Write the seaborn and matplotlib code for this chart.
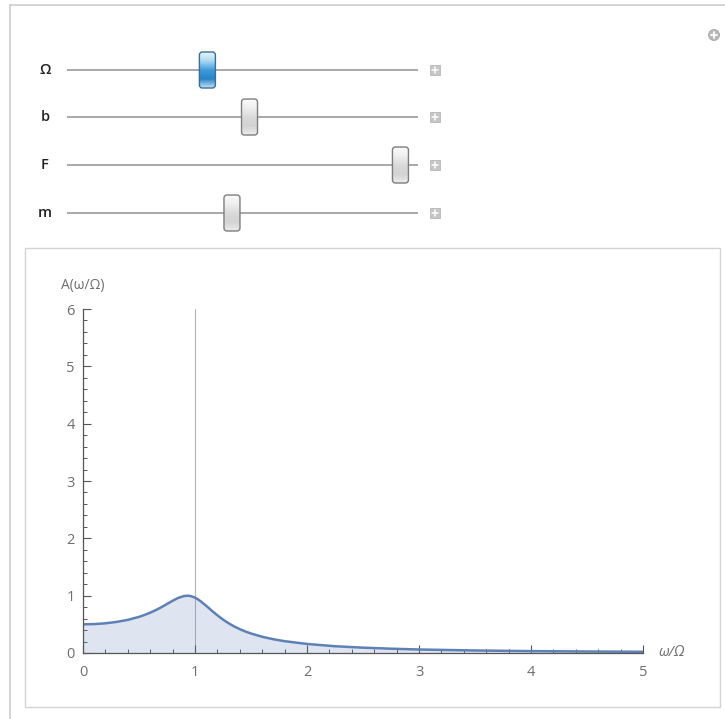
import matplotlib.pyplot as plt
import matplotlib.patches as mpatches
from matplotlib.colors import LinearSegmentedColormap
import numpy as np
import seaborn as sns

# slider controls: label, handle position along the track (0..1), highlighted?
slider_labels = ["Ω", "b", "F", "m"]
slider_positions = [0.40, 0.52, 0.95, 0.47]
slider_active = [True, False, False, False]

# resonance curve
omega_ratio = [0.0, 0.1, 0.2, 0.3, 0.4, 0.5, 0.55, 0.6, 0.65, 0.7, 0.75, 0.8, 0.85,
               0.9, 0.93, 0.95, 0.97, 1.0, 1.02, 1.05, 1.1, 1.15, 1.2, 1.25, 1.3,
               1.35, 1.4, 1.45, 1.5, 1.6, 1.7, 1.8, 2.0, 2.25, 2.5, 2.75, 3.0, 3.5,
               4.0, 4.5, 5.0]
amplitude = [0.500, 0.504, 0.518, 0.542, 0.578, 0.630, 0.664, 0.703, 0.748, 0.799,
             0.855, 0.911, 0.961, 0.993, 0.999, 0.997, 0.988, 0.965, 0.944, 0.903,
             0.823, 0.738, 0.657, 0.583, 0.519, 0.463, 0.416, 0.375, 0.340, 0.283,
             0.240, 0.206, 0.158, 0.118, 0.093, 0.075, 0.061, 0.044, 0.033, 0.026,
             0.021]
marker_line = 1.0

sns.set_style("ticks")
plt.rcParams['font.family'] = ['Open Sans', 'DejaVu Sans']

W, H = 725, 719
fig = plt.figure(figsize=(W / 100, H / 100), dpi=100)

# --- plot area ---
curve_color = "#5E81B5"
axis_color = "#555555"
ax = fig.add_axes([83 / W, 1 - 653 / H, (643 - 83) / W, (653 - 309) / H])
ax.set_zorder(2)
ax.patch.set_alpha(0)
sns.lineplot(x=omega_ratio, y=amplitude, ax=ax, color=curve_color, linewidth=1.8)
ax.fill_between(omega_ratio, amplitude, 0, color=curve_color, alpha=0.2, lw=0)
ax.axvline(marker_line, color="#b5b5b5", lw=0.8, zorder=0)
ax.set_xlim(0, 5)
ax.set_ylim(0, 6)
ax.set_xticks(range(0, 6))
ax.set_yticks(range(0, 7))
ax.set_xticks(np.arange(0, 5.01, 0.2), minor=True)
ax.set_yticks(np.arange(0, 6.01, 0.2), minor=True)
sns.despine(ax=ax)
for s in ["left", "bottom"]:
    ax.spines[s].set_color(axis_color)
    ax.spines[s].set_linewidth(0.9)
ax.tick_params(which="major", direction="in", length=5.5, width=0.8, color=axis_color,
               labelcolor="#6e6e6e", labelsize=10.5)
ax.tick_params(which="minor", direction="in", length=3, width=0.7, color=axis_color)
ax.tick_params(axis="x", pad=9)
ax.tick_params(axis="y", pad=6)
ax.set_xlabel("")
ax.set_ylabel("")
ax.annotate("A(ω/Ω)", xy=(0, 1), xycoords="axes fraction", xytext=(0, 17),
            textcoords="offset points", ha="center", va="center", fontsize=10,
            color="#6e6e6e")
ax.annotate("ω/Ω", xy=(1, 0), xycoords="axes fraction", xytext=(11, 0),
            textcoords="offset points", ha="left", va="center", fontsize=10.5,
            color="#6e6e6e", style="italic")

# --- manipulate frame and controls, drawn in pixel units ---
ui = fig.add_axes([0, 0, 1, 1])
ui.set_zorder(0)
ui.axis("off")

ui.plot([10, 10], [5, H], color="#cdcdcd", lw=1.2)
ui.plot([10, W], [5, 5], color="#cdcdcd", lw=1.2)
ui.add_patch(mpatches.Rectangle((25, 248), 695, 459, facecolor="white",
                                edgecolor="#d4d4d4", lw=1.0))

# gear / options button
ui.add_patch(mpatches.Circle((714, 35), 5.5, facecolor="#b9b9b9", edgecolor="#a8a8a8", lw=0.6))
ui.plot([711, 717], [35, 35], color="white", lw=1.3)
ui.plot([714, 714], [32, 38], color="white", lw=1.3)

blue_cmap = LinearSegmentedColormap.from_list("thumb_blue", ["#e8f5fc", "#a9d7f2", "#3f9bdc", "#2a82c6", "#bfe1f5"])
gray_cmap = LinearSegmentedColormap.from_list("thumb_gray", ["#fbfbfb", "#eeeeee", "#dadada", "#d2d2d2", "#ececec"])
grad = np.linspace(0, 1, 64).reshape(-1, 1)

track_x0, track_x1 = 67, 418
row_y = [70, 117, 165, 213]
for label, pos, active, y in zip(slider_labels, slider_positions, slider_active, row_y):
    ui.text(45, y, label, ha="center", va="center", fontsize=10.5, color="#222222",
            fontweight="semibold")
    ui.plot([track_x0, track_x1], [y, y], color="#a8a8a8", lw=1.4, solid_capstyle="butt")
    cx = track_x0 + pos * (track_x1 - track_x0)
    thumb = mpatches.FancyBboxPatch((cx - 8, y - 18), 16, 36,
                                    boxstyle="round,pad=0,rounding_size=3",
                                    facecolor="none",
                                    edgecolor="#3b6e96" if active else "#7d7d7d",
                                    lw=1.0, zorder=4)
    ui.add_patch(thumb)
    img = ui.imshow(grad, extent=(cx - 8, cx + 8, y + 18, y - 18), aspect="auto",
                    cmap=blue_cmap if active else gray_cmap, zorder=3)
    img.set_clip_path(thumb)
    # little "+" button at the end of each slider
    ui.add_patch(mpatches.Rectangle((430, y - 5), 10, 10, facecolor="#c6c6c6",
                                    edgecolor="#b8b8b8", lw=0.6))
    ui.plot([432, 438], [y, y], color="white", lw=1.1)
    ui.plot([435, 435], [y - 3, y + 3], color="white", lw=1.1)

ui.set_xlim(0, W)
ui.set_ylim(H, 0)

plt.savefig("out.png", dpi=100)
plt.close()
